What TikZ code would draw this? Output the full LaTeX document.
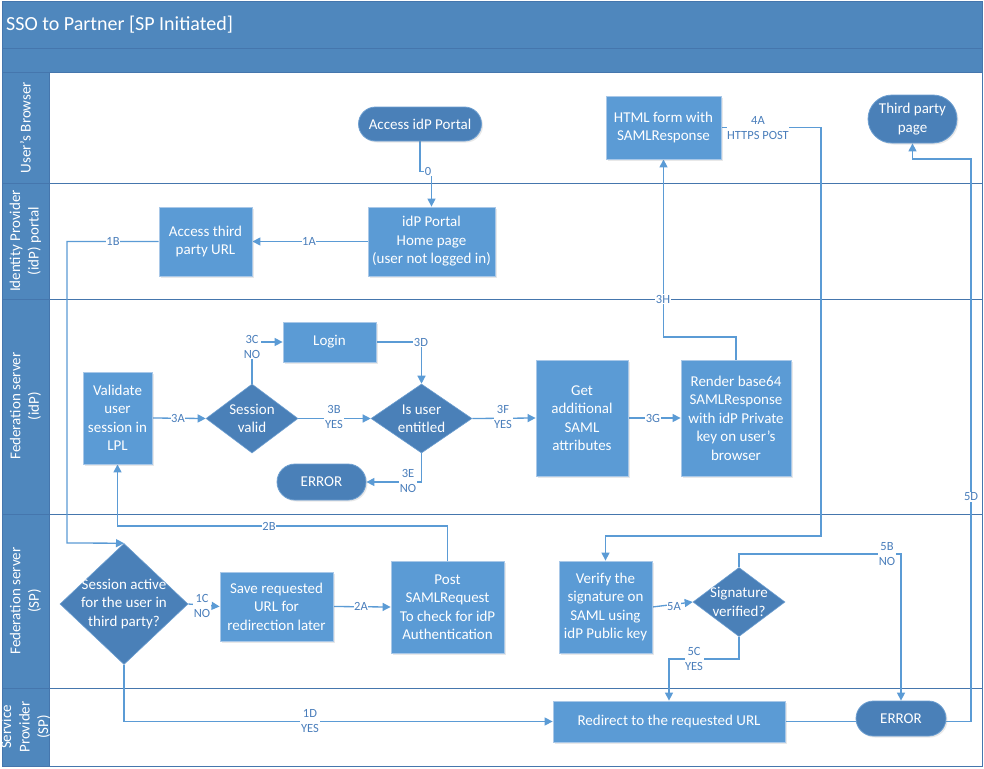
\documentclass[tikz,border=0pt]{standalone}
\usepackage{fontspec}
\setmainfont{Carlito}
\usetikzlibrary{shapes.geometric,shapes.misc,arrows.meta,shadows}
\definecolor{boxfill}{HTML}{5B9BD5}
\definecolor{boxline}{HTML}{A9C8E8}
\definecolor{darkfill}{HTML}{4A80B8}
\definecolor{darkline}{HTML}{6C9ED0}
\definecolor{headfill}{HTML}{4F87BD}
\definecolor{laneline}{HTML}{4576AD}
\definecolor{connc}{HTML}{5B9BD5}
\definecolor{labc}{HTML}{4A7EBB}
\pgfdeclarelayer{lanes}
\pgfdeclarelayer{edges}
\pgfsetlayers{lanes,edges,main}
\begin{document}
\begin{tikzpicture}[x=1pt,y=-1pt,
  nodefont/.style={font=\fontsize{15}{18.5}\selectfont},
  proc/.style={rectangle, fill=boxfill, draw=boxline, line width=0.8pt, text=white, align=center, inner sep=2pt, nodefont,
     drop shadow={opacity=0.18, shadow xshift=1.5pt, shadow yshift=-1.5pt}},
  term/.style={rounded rectangle, fill=darkfill, draw=darkline, line width=0.8pt, text=white, align=center, inner sep=2pt, nodefont,
     drop shadow={opacity=0.18, shadow xshift=1.5pt, shadow yshift=-1.5pt}},
  dec/.style={diamond, fill=darkfill, draw=darkline, line width=0.6pt, inner sep=0pt},
  dectext/.style={text=white, align=center, inner sep=0pt, nodefont},
  lanehead/.style={text=white, align=center, rotate=90, nodefont},
  conn/.style={draw=connc, line width=1.3pt},
  arr/.style={conn, -{Triangle[length=8pt,width=8pt]}},
  lab/.style={fill=white, inner sep=0.6pt, text=labc, align=center, font=\fontsize{12.5}{15}\selectfont}
]
\useasboundingbox (0,0) rectangle (984,768);

% ---------- pool and lanes ----------
\begin{pgfonlayer}{lanes}
  \fill[white] (0,0) rectangle (984,768);
  \fill[headfill] (2,2) rectangle (982,72);
  \fill[headfill] (2,72) rectangle (49,766);
  \fill[white] (49,72) rectangle (982,766);
  \draw[laneline, line width=0.9pt] (2,48) -- (982,48);
  \draw[laneline, line width=0.9pt] (2,72) -- (982,72);
  \draw[laneline, line width=0.9pt] (2,183) -- (982,183);
  \draw[laneline, line width=0.9pt] (2,299) -- (982,299);
  \draw[laneline, line width=0.9pt] (2,514) -- (982,514);
  \draw[laneline, line width=0.9pt] (2,688) -- (982,688);
  \draw[laneline, line width=0.9pt] (49,72) -- (49,766);
  \draw[laneline, line width=1pt] (2,2) rectangle (982,766);
\end{pgfonlayer}

\node[anchor=west, text=white, inner sep=0pt, font=\fontsize{20}{24}\selectfont] (title) at (6,25) {SSO to Partner [SP Initiated]};

\node[lanehead] (h1) at (25.5,127.5) {User’s Browser};
\node[lanehead] (h2) at (25.5,241) {Identity Provider\\(idP) portal};
\node[lanehead] (h3) at (25.5,406) {Federation server\\(idP)};
\node[lanehead] (h4) at (25.5,601) {Federation server\\(SP)};
\node[lanehead] (h5) at (25.5,727) {Service\\Provider\\(SP)};

% ---------- User's Browser ----------
\node[term, minimum width=127, minimum height=34] (aip) at (420,124) {Access idP Portal};
\node[proc, minimum width=115, minimum height=63] (html) at (663.5,127.5) {HTML form with\\SAMLResponse};
\node[term, minimum width=93, minimum height=48] (tpp) at (912.5,119) {Third party\\page};

% ---------- Identity Provider portal ----------
\node[proc, minimum width=127, minimum height=69] (home) at (431.5,241.5) {idP Portal\\Home page\\(user not logged in)};
\node[proc, minimum width=93, minimum height=69] (atp) at (205.5,241.5) {Access third\\party URL};

% ---------- Federation server (idP) ----------
\node[proc, minimum width=69, minimum height=92] (val) at (117.5,418) {Validate\\user\\session in\\LPL};
\node[dec, minimum width=92, minimum height=69] (sv) at (252,418.5) {};
\node[dectext] (svt) at (sv) {Session\\valid};
\node[proc, minimum width=93, minimum height=40] (login) at (329.5,342) {Login};
\node[dec, minimum width=101, minimum height=69] (iue) at (421.5,418.5) {};
\node[dectext] (iuet) at (iue) {Is user\\entitled};
\node[term, minimum width=93, minimum height=36] (err1) at (321.5,482) {ERROR};
\node[proc, minimum width=92, minimum height=116] (get) at (582,418) {Get\\additional\\SAML\\attributes};
\node[proc, minimum width=110, minimum height=116] (rend) at (736,418) {Render base64\\SAMLResponse\\with idP Private\\key on user’s\\browser};

% ---------- Federation server (SP) ----------
\node[dec, minimum width=128, minimum height=121] (sa) at (124,604) {};
\node[dectext] (sat) at (sa) {Session active\\for the user in\\third party?};
\node[proc, minimum width=113, minimum height=69] (save) at (276.5,606.5) {Save requested\\URL for\\redirection later};
\node[proc, minimum width=113, minimum height=92] (post) at (447.5,607) {Post\\SAMLRequest\\To check for idP\\Authentication};
\node[proc, minimum width=93, minimum height=92] (ver) at (605.5,607) {Verify the\\signature on\\SAML using\\idP Public key};
\node[dec, minimum width=92, minimum height=69] (sig) at (739,602) {};
\node[dectext] (sigt) at (sig) {Signature\\verified?};

% ---------- Service Provider (SP) ----------
\node[proc, minimum width=232, minimum height=41] (redir) at (669,721.5) {Redirect to the requested URL};
\node[term, minimum width=94, minimum height=35] (errsp) at (901,718.5) {ERROR};

% ---------- connectors ----------
\begin{pgfonlayer}{edges}
  \draw[arr] (aip.south) -- ++(0,30) -| (home.north);
  \draw[arr] (home.west) -- (atp.east);
  \draw[arr] (atp.west) -- (67,241.5) -- (67,543) -- (sa.north);
  \draw[arr] (val.east) -- (sv.west);
  \draw[arr] (sv.east) -- (iue.west);
  \draw[arr] (sv.north) |- (login.west);
  \draw[arr] (login.east) -| (iue.north);
  \draw[arr] (iue.south) |- (err1.east);
  \draw[arr] (iue.east) -- (get.west);
  \draw[arr] (get.east) -- (rend.west);
  \draw[arr] (rend.north) -- (736,337) -| (html.south);
  \draw[arr] (html.east) -- (821,127.5) -- (821,536) -| (ver.north);
  \draw[arr] (post.north) -- (447.5,526) -| (val.south);
  \draw[arr] (sa.east) -- (save.west);
  \draw[arr] (save.east) -- (post.west);
  \draw[arr] (sa.south) |- (redir.west);
  \draw[arr] (ver.east) -- (sig.west);
  \draw[arr] (sig.north) -- (739,554) -| (errsp.north);
  \draw[arr] (sig.south) -- (739,659) -| (redir.north);
  \draw[arr] (redir.east) -- (971,721.5) -- (971,159) -| (tpp.south);
\end{pgfonlayer}

% ---------- connector labels ----------
\node[lab] (l0) at (428,171) {0};
\node[lab] (l1a) at (309,241.5) {1A};
\node[lab] (l1b) at (113,241.5) {1B};
\node[lab] (l3a) at (178,418) {3A};
\node[lab] (l3b) at (334,417) {3B\\YES};
\node[lab] (l3c) at (252,347) {3C\\NO};
\node[lab] (l3d) at (421,342) {3D};
\node[lab] (l3e) at (408,481) {3E\\NO};
\node[lab] (l3f) at (503,417) {3F\\YES};
\node[lab] (l3g) at (653,418) {3G};
\node[lab] (l3h) at (663,299) {3H};
\node[lab] (l4a) at (758,128) {4A\\HTTPS POST};
\node[lab] (l2b) at (269,526) {2B};
\node[lab] (l1c) at (202,606) {1C\\NO};
\node[lab] (l2a) at (361,606.5) {2A};
\node[lab] (l1d) at (310,721) {1D\\YES};
\node[lab] (l5a) at (674,607) {5A};
\node[lab] (l5b) at (887,554.5) {5B\\NO};
\node[lab] (l5c) at (694,659) {5C\\YES};
\node[lab] (l5d) at (971,497) {5D};
\end{tikzpicture}
\end{document}
